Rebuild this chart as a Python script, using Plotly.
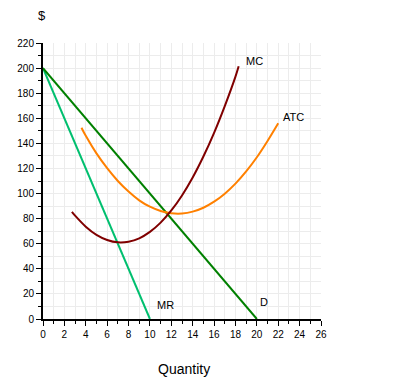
import plotly.graph_objects as go

# Demand and marginal revenue (straight lines)
d_q = [0, 20]
d_p = [200, 0]
mr_q = [0, 10]
mr_p = [200, 0]

# Marginal cost curve
mc_q = [2.7, 3, 4, 5, 6, 7, 8, 9, 10, 11, 12, 13, 14, 15, 16, 17, 18, 18.3]
mc_p = [85.4, 82.4, 73.6, 67.1, 63.0, 61.1, 61.6, 64.3, 69.4, 76.8, 86.5, 98.5,
        112.8, 129.5, 148.4, 169.7, 193.2, 201.5]

# Average total cost curve
atc_q = [3.6, 4, 5, 6, 7, 8, 9, 10, 11, 12, 13, 14, 15, 16, 17, 18, 19, 20, 21, 22]
atc_p = [152.5, 146, 132, 120.2, 110, 101.6, 94.6, 89.5, 86.1, 84.3, 84.1, 85.6,
         88.7, 93.5, 99.9, 107.9, 117.6, 128.9, 141.9, 156.0]

x_ticks = list(range(0, 27, 2))
y_ticks = list(range(0, 221, 20))

fig = go.Figure()
fig.add_trace(go.Scatter(x=mr_q, y=mr_p, mode="lines", line=dict(color="#00BF6F", width=2)))
fig.add_trace(go.Scatter(x=d_q, y=d_p, mode="lines", line=dict(color="#008000", width=2)))
fig.add_trace(go.Scatter(x=atc_q, y=atc_p, mode="lines", line=dict(color="#FF8000", width=2, shape="spline")))
fig.add_trace(go.Scatter(x=mc_q, y=mc_p, mode="lines", line=dict(color="#800000", width=2, shape="spline")))

font = dict(family="Arial, Liberation Sans, sans-serif", color="black")
ann = [
    dict(x=19.8, y=206, text="MC"),
    dict(x=23.4, y=161, text="ATC"),
    dict(x=11.5, y=11, text="MR"),
    dict(x=20.65, y=13.5, text="D"),
]
annotations = [dict(x=a["x"], y=a["y"], text=a["text"], xref="x", yref="y", showarrow=False,
                    xanchor="center", yanchor="middle",
                    font=dict(size=11, **font)) for a in ann]
annotations.append(dict(x=-0.004, y=1.101, xref="paper", yref="paper", text="$", showarrow=False,
                        xanchor="center", yanchor="middle", font=dict(size=13, **font)))
annotations.append(dict(x=0.507, y=-0.181, xref="paper", yref="paper", text="Quantity", showarrow=False,
                        xanchor="center", yanchor="middle", font=dict(size=14, **font)))

grid = "#ECECEC"
fig.update_layout(
    width=404, height=376,
    margin=dict(l=35, r=91, t=35, b=65, autoexpand=False),
    paper_bgcolor="white", plot_bgcolor="white",
    showlegend=False,
    annotations=annotations,
    font=dict(size=10, **font),
    xaxis=dict(range=[0, 26], tickvals=x_ticks, showline=True, linecolor="black", linewidth=2,
               ticks="outside", ticklen=5, tickwidth=1, tickcolor="black",
               showgrid=True, gridcolor=grid, gridwidth=1, zeroline=False, automargin=False,
               minor=dict(dtick=1, ticks="outside", ticklen=3, tickcolor="black", showgrid=True, gridcolor=grid),
               tickfont=dict(size=10, **font), fixedrange=True),
    yaxis=dict(range=[0, 220], tickvals=y_ticks, showline=True, linecolor="black", linewidth=2,
               ticks="outside", ticklen=5, tickwidth=1, tickcolor="black",
               showgrid=True, gridcolor=grid, gridwidth=1, zeroline=False, automargin=False,
               minor=dict(dtick=10, ticks="outside", ticklen=3, tickcolor="black", showgrid=True, gridcolor=grid),
               tickfont=dict(size=10, **font), fixedrange=True),
)
fig.write_html("out.html", config=dict(displayModeBar=False))
